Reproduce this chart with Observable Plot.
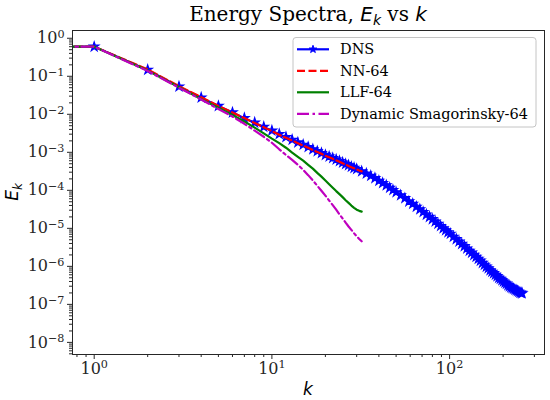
<!DOCTYPE html>
<html>
<head>
<meta charset="utf-8">
<script src="https://cdn.jsdelivr.net/npm/d3@7"></script>
<script src="https://cdn.jsdelivr.net/npm/@observablehq/plot@0.6"></script>
<style>
  html, body { margin: 0; padding: 0; background: #fff; }
  #chart svg { display: block; }
</style>
</head>
<body>
<div id="chart"></div>
<script>
// ---- data ----
const seriesNames = ["DNS", "NN-64", "LLF-64", "Dynamic Smagorinsky-64"];
const seriesColors = ["#0000ff", "#ff0000", "#008000", "#bf00bf"];

const dnsK = [0,
  1, 2, 3, 4, 5, 6, 7, 8, 9, 10,
  11, 12, 13, 14, 15, 16, 17, 18, 19, 20,
  21, 22, 23, 24, 25, 26, 27, 28, 29, 30,
  32, 34, 36, 38, 40, 42, 44, 46, 48, 50,
  53, 56, 59, 62, 65, 68, 71, 74, 77, 80, 83, 86, 89, 92, 95, 98, 101,
  105, 109, 113, 117, 121, 125, 129, 133, 137, 141,
  145, 149, 153, 157, 161, 165, 169, 173, 177, 181,
  185, 189, 193, 197, 201, 205, 209, 213, 217, 221,
  225, 229, 233, 237, 241, 245, 249, 253, 256];
const dnsE = [0.60,
  0.60, 0.148, 0.0537, 0.0275, 0.0166, 0.0112, 7.94e-3, 6.03e-3, 4.68e-3, 3.72e-3,
  3.02e-3, 2.51e-3, 2.14e-3, 1.82e-3, 1.58e-3, 1.38e-3, 1.20e-3, 1.07e-3, 9.55e-4, 8.51e-4,
  7.76e-4, 7.08e-4, 6.46e-4, 5.89e-4, 5.37e-4, 4.90e-4, 4.57e-4, 4.17e-4, 3.89e-4, 3.63e-4,
  3.16e-4, 2.75e-4, 2.40e-4, 2.09e-4, 1.78e-4, 1.55e-4, 1.35e-4, 1.17e-4, 1.02e-4, 8.9e-5,
  7.4e-5, 6.2e-5, 5.1e-5, 4.4e-5, 3.7e-5, 3.16e-5, 2.69e-5, 2.29e-5, 2.0e-5, 1.74e-5, 1.51e-5, 1.32e-5, 1.15e-5, 1.0e-5, 8.9e-6, 7.9e-6, 7.2e-6,
  6.0e-6, 5.2e-6, 4.5e-6, 3.9e-6, 3.4e-6, 2.95e-6, 2.57e-6, 2.29e-6, 2.0e-6, 1.78e-6,
  1.58e-6, 1.41e-6, 1.23e-6, 1.10e-6, 9.8e-7, 8.9e-7, 7.9e-7, 7.2e-7, 6.6e-7, 6.0e-7,
  5.5e-7, 5.0e-7, 4.7e-7, 4.3e-7, 4.0e-7, 3.7e-7, 3.5e-7, 3.2e-7, 3.0e-7, 2.8e-7,
  2.7e-7, 2.57e-7, 2.45e-7, 2.34e-7, 2.24e-7, 2.14e-7, 2.04e-7, 2.0e-7, 1.95e-7];

const lesK = [0, 1, 2, 3, 4, 5, 6, 7, 8, 9, 10, 11, 12, 13, 14, 15, 16,
  17, 18, 19, 20, 21, 22, 23, 24, 25, 26, 27, 28, 29, 30, 31, 32];
const nnE = [0.60, 0.60, 0.151, 0.0550, 0.0282, 0.0166, 0.0112, 7.94e-3, 5.89e-3, 4.57e-3, 3.63e-3,
  2.88e-3, 2.40e-3, 2.04e-3, 1.74e-3, 1.51e-3, 1.32e-3, 1.15e-3, 1.02e-3, 9.12e-4, 8.13e-4,
  7.41e-4, 6.76e-4, 6.17e-4, 5.62e-4, 5.13e-4, 4.79e-4, 4.37e-4, 4.07e-4, 3.80e-4, 3.55e-4, 3.31e-4, 3.16e-4];
const llfE = [0.60, 0.60, 0.141, 0.0513, 0.0251, 0.0148, 9.55e-3, 6.46e-3, 4.47e-3, 3.16e-3, 2.29e-3,
  1.74e-3, 1.32e-3, 9.77e-4, 7.59e-4, 6.03e-4, 4.68e-4, 3.72e-4, 2.88e-4, 2.29e-4, 1.82e-4,
  1.45e-4, 1.17e-4, 9.55e-5, 7.94e-5, 6.61e-5, 5.50e-5, 4.68e-5, 3.98e-5, 3.47e-5, 3.09e-5, 2.88e-5, 2.75e-5];
const dsE = [0.60, 0.60, 0.138, 0.0501, 0.0245, 0.0138, 8.71e-3, 5.62e-3, 3.72e-3, 2.57e-3, 1.78e-3,
  1.20e-3, 8.51e-4, 6.31e-4, 4.68e-4, 3.47e-4, 2.51e-4, 1.82e-4, 1.32e-4, 9.77e-5, 7.24e-5,
  5.37e-5, 4.07e-5, 3.09e-5, 2.34e-5, 1.82e-5, 1.41e-5, 1.12e-5, 9.12e-6, 7.41e-6, 6.17e-6, 5.25e-6, 4.57e-6];

const xMajorTicks = [1, 10, 100];
const xMinorTicks = [0.8, 0.9, 2, 3, 4, 5, 6, 7, 8, 9, 20, 30, 40, 50, 60, 70, 80, 90, 200, 300];
const yMajorTicks = [1e-8, 1e-7, 1e-6, 1e-5, 1e-4, 1e-3, 1e-2, 1e-1, 1];
const yMinorDecades = [1e-9, 1e-8, 1e-7, 1e-6, 1e-5, 1e-4, 1e-3, 1e-2, 1e-1, 1];
const yMinorMultiples = [2, 3, 4, 5, 6, 7, 8, 9];

// ---- tables ----
const dns = dnsK.map((k, i) => ({k, E: dnsE[i]}));
const mk = arr => lesK.map((k, i) => ({k, E: arr[i]}));
const nn = mk(nnE), llf = mk(llfE), ds = mk(dsE);
const yMinorTicks = yMinorDecades.flatMap(d => yMinorMultiples.map(m => m * d))
  .filter(v => v > 4.8e-9 && v < 1.6);

// matplotlib-like "clip" of non-positive k on a log axis
const kx = d => (d.k > 0 ? d.k : 1e-6);
const expLabel = d => "10^" + String(Math.round(Math.log10(d))).replace("-", "\u2212");

const starR = 2.9;
const svg = Plot.plot({
  width: 550,
  height: 400,
  marginLeft: 72,
  marginRight: 6,
  marginTop: 30,
  marginBottom: 46,
  style: {fontFamily: "DejaVu Serif", fontSize: "16px", background: "#fff", color: "#262626"},
  x: {type: "log", domain: [0.755, 342]},
  y: {type: "log", domain: [4.8e-9, 1.6]},
  marks: [
    Plot.line(dns, {x: kx, y: "E", stroke: seriesColors[0], strokeWidth: 2, clip: true}),
    Plot.dot(dns.filter(d => d.k > 0), {x: "k", y: "E", symbol: "star", r: starR,
      fill: seriesColors[0], stroke: seriesColors[0], strokeWidth: 1.2, clip: true}),
    Plot.line(nn, {x: kx, y: "E", stroke: seriesColors[1], strokeWidth: 2.2,
      strokeDasharray: "8,3.5", clip: true}),
    Plot.line(llf, {x: kx, y: "E", stroke: seriesColors[2], strokeWidth: 2.2, clip: true}),
    Plot.line(ds, {x: kx, y: "E", stroke: seriesColors[3], strokeWidth: 2.2,
      strokeDasharray: "12,3.5,2.5,3.5", clip: true}),
    Plot.axisX(xMajorTicks, {tickSize: 5, tickPadding: 3, tickFormat: expLabel, label: null}),
    Plot.axisX(xMinorTicks, {tickSize: 3, tickFormat: () => "", label: null}),
    Plot.axisY(yMajorTicks, {tickSize: 5, tickPadding: 3, tickFormat: expLabel, label: null}),
    Plot.axisY(yMinorTicks, {tickSize: 3, tickFormat: () => "", label: null}),
    Plot.frame({stroke: "#262626", strokeWidth: 1})
  ]
});

// superscript exponents on tick labels
d3.select(svg).selectAll("text").each(function () {
  const t = this.textContent;
  if (t.startsWith("10^")) {
    const exp = t.slice(3);
    const s = d3.select(this);
    s.text(null);
    s.append("tspan").text("10");
    s.append("tspan").attr("dy", "-0.5em").attr("font-size", "0.7em").text(exp);
  }
});

const root = d3.select(svg);
const cx = (72 + 544) / 2;

// title
const title = root.append("text").attr("x", cx).attr("y", 21).attr("text-anchor", "middle")
  .attr("font-family", "DejaVu Serif").attr("font-size", 20).attr("fill", "#000");
title.append("tspan").text("Energy Spectra, ");
title.append("tspan").attr("font-family", "DejaVu Sans").attr("font-style", "italic").text("E");
title.append("tspan").attr("font-family", "DejaVu Sans").attr("font-style", "italic")
  .attr("font-size", 14).attr("dy", 4).text("k");
title.append("tspan").attr("dy", -4).text(" vs ");
title.append("tspan").attr("font-family", "DejaVu Sans").attr("font-style", "italic").text("k");

// axis labels
root.append("text").attr("x", cx).attr("y", 395).attr("text-anchor", "middle")
  .attr("font-family", "DejaVu Sans").attr("font-style", "italic").attr("font-size", 17)
  .attr("fill", "#000").text("k");
const yl = root.append("text").attr("transform", `translate(18,${(30 + 354) / 2}) rotate(-90)`)
  .attr("text-anchor", "middle").attr("font-family", "DejaVu Sans").attr("font-style", "italic")
  .attr("font-size", 17).attr("fill", "#000");
yl.append("tspan").text("E");
yl.append("tspan").attr("font-size", 12).attr("dy", 3.5).text("k");

// legend
const lg = root.append("g");
lg.append("rect").attr("x", 293).attr("y", 37.5).attr("width", 243).attr("height", 89.5)
  .attr("rx", 3).attr("ry", 3)
  .style("fill", "#ffffff").style("fill-opacity", 0.8)
  .style("stroke", "#c4c4c4").style("stroke-width", 1);
const dashes = [null, "8,3.5", null, "12,3.5,2.5,3.5"];
seriesNames.forEach((name, i) => {
  const yy = 49.3 + i * 21.5;
  const ln = lg.append("line").attr("x1", 297).attr("x2", 329).attr("y1", yy).attr("y2", yy)
    .style("stroke", seriesColors[i]).style("stroke-width", 2.2);
  if (dashes[i]) ln.style("stroke-dasharray", dashes[i]);
  if (i === 0) {
    lg.append("path").attr("d", d3.symbol(d3.symbolStar, Math.PI * 2.4 * 2.4)())
      .attr("transform", `translate(313,${yy})`)
      .style("fill", seriesColors[0]).style("stroke", seriesColors[0]).style("stroke-width", 1);
  }
  lg.append("text").attr("x", 340).attr("y", yy + 5).attr("text-anchor", "start")
    .attr("font-family", "DejaVu Serif").attr("font-size", 14.5).style("fill", "#000").text(name);
});

document.getElementById("chart").appendChild(svg);
</script>
</body>
</html>
